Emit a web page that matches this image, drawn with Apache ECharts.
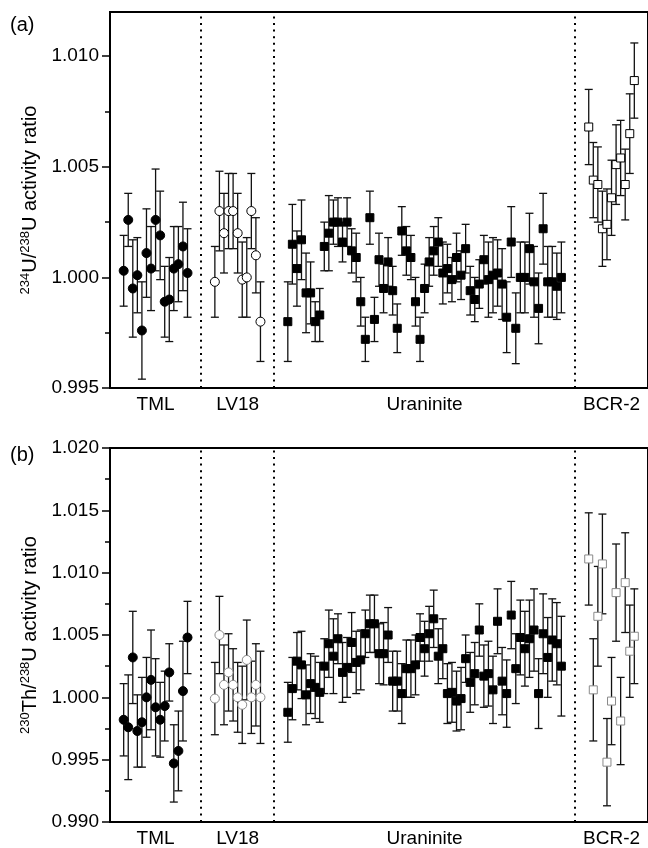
<!DOCTYPE html>
<html><head><meta charset="utf-8">
<script src="https://cdn.jsdelivr.net/npm/echarts@6/dist/echarts.min.js"></script>
<style>html,body{margin:0;padding:0;background:#fff}#c{width:648px;height:848px}</style>
</head><body><div id="c"></div>
<script>
// ---------- data ----------
const groupNames = ['TML', 'LV18', 'Uraninite', 'BCR-2'];
// sample position (run index) of each measurement along the x axis
const tmlX = [3,4,5,6,7,8,9,10,11,12,13,14,15,16,17];
const lv18X = [23,24,25,26,27,28,29,30,31,32,33];
const uranX = [39,40,41,42,43,44,45,46,47,48,49,50,51,52,53,54,55,56,57,58,59,60,61,62,63,64,65,66,67,68,69,70,71,72,73,74,75,76,77,78,79,80,81,82,83,84,85,86,87,88,89,90,91,92,93,94,95,96,97,98,99];
const bcrX = [105,106,107,108,109,110,111,112,113,114,115];

// (a) 234U/238U activity ratio
const yTicksA = [0.995, 1.000, 1.005, 1.010];
const tmlA = [1.0003,1.0026,0.9995,1.0001,0.9976,1.0011,1.0004,1.0026,1.0019,0.9989,0.9990,1.0004,1.0006,1.0014,1.0002];
const tmlAErr = [0.0016,0.0012,0.0022,0.0017,0.0022,0.0020,0.0019,0.0023,0.0020,0.0016,0.0019,0.0019,0.0017,0.0020,0.0020];
const lv18A = [0.9998,1.0030,1.0020,1.0030,1.0030,1.0020,0.9999,1.0000,1.0030,1.0010,0.9980];
const lv18AErr = [0.0016,0.0018,0.0018,0.0017,0.0017,0.0018,0.0017,0.0018,0.0017,0.0017,0.0018];
const uranA = [0.9980,1.0015,1.0004,1.0017,0.9993,0.9993,0.9980,0.9983,1.0014,1.0020,
  1.0025,1.0025,1.0016,1.0025,1.0012,1.0009,0.9989,0.9972,1.0027,0.9981,
  1.0008,0.9995,1.0007,0.9994,0.9977,1.0021,1.0012,1.0009,0.9989,0.9972,
  0.9995,1.0007,1.0012,1.0016,1.0002,1.0004,0.9999,1.0009,1.0001,1.0013,
  0.9994,0.9990,0.9997,1.0008,0.9999,1.0001,1.0002,0.9997,0.9982,1.0016,
  0.9977,1.0000,1.0000,1.0013,0.9998,0.9986,1.0022,0.9998,0.9998,0.9996,1.0000];
const uranAErr = [0.0018,0.0018,0.0017,0.0018,0.0018,0.0014,0.0009,0.0012,0.0011,0.0017,
  0.0010,0.0011,0.0009,0.0011,0.0010,0.0011,0.0011,0.0010,0.0012,0.0010,
  0.0012,0.0011,0.0011,0.0011,0.0011,0.0011,0.0011,0.0010,0.0011,0.0010,
  0.0011,0.0011,0.0011,0.0011,0.0014,0.0011,0.0010,0.0011,0.0011,0.0011,
  0.0011,0.0010,0.0011,0.0011,0.0017,0.0017,0.0015,0.0016,0.0016,0.0016,
  0.0016,0.0016,0.0016,0.0016,0.0016,0.0016,0.0016,0.0016,0.0016,0.0015,0.0016];
const bcrA = [1.0068,1.0044,1.0042,1.0022,1.0024,1.0036,1.0051,1.0054,1.0042,1.0065,1.0089];
const bcrAErr = [0.0017,0.0017,0.0017,0.0017,0.0016,0.0017,0.0018,0.0017,0.0016,0.0018,0.0017];

// (b) 230Th/238U activity ratio
const yTicksB = [0.990, 0.995, 1.000, 1.005, 1.010, 1.015, 1.020];
const tmlB = [0.9982,0.9976,1.0032,0.9973,0.9980,1.0000,1.0014,0.9992,0.9982,0.9993,1.0020,0.9947,0.9957,1.0005,1.0048];
const tmlBErr = [0.0029,0.0042,0.0037,0.0029,0.0036,0.0032,0.0040,0.0039,0.0030,0.0028,0.0023,0.0031,0.0032,0.0040,0.0029];
const lv18B = [0.9999,1.0050,1.0010,1.0020,1.0010,1.0000,0.9994,1.0030,1.0000,1.0010,1.0000];
const lv18BErr = [0.0029,0.0031,0.0032,0.0031,0.0029,0.0028,0.0031,0.0032,0.0029,0.0033,0.0037];
const uranB = [0.9988,1.0007,1.0029,1.0026,1.0002,1.0011,1.0008,1.0004,1.0025,1.0043,
  1.0033,1.0047,1.0020,1.0024,1.0044,1.0028,1.0030,1.0051,1.0059,1.0059,
  1.0035,1.0035,1.0050,1.0013,1.0013,1.0003,1.0023,1.0023,1.0026,1.0048,
  1.0039,1.0051,1.0063,1.0033,1.0039,1.0003,1.0004,0.9997,0.9999,1.0031,
  1.0012,1.0019,1.0054,1.0017,1.0019,1.0006,1.0061,1.0013,1.0003,1.0066,
  1.0023,1.0048,1.0039,1.0047,1.0054,1.0003,1.0051,1.0032,1.0046,1.0043,1.0025];
const uranBErr = [0.0024,0.0025,0.0023,0.0027,0.0024,0.0024,0.0025,0.0024,0.0022,0.0027,
  0.0030,0.0020,0.0024,0.0024,0.0024,0.0025,0.0024,0.0019,0.0023,0.0023,
  0.0024,0.0025,0.0022,0.0024,0.0024,0.0024,0.0023,0.0023,0.0024,0.0019,
  0.0022,0.0022,0.0023,0.0022,0.0024,0.0024,0.0024,0.0024,0.0025,0.0019,
  0.0024,0.0025,0.0021,0.0025,0.0026,0.0027,0.0026,0.0027,0.0027,0.0027,
  0.0028,0.0030,0.0030,0.0031,0.0033,0.0028,0.0032,0.0032,0.0033,0.0033,0.0040];
const bcrB = [1.0111,1.0006,1.0065,1.0107,0.9948,0.9997,1.0084,0.9981,1.0092,1.0037,1.0049];
const bcrBErr = [0.0037,0.0041,0.0040,0.0040,0.0035,0.0035,0.0039,0.0035,0.0040,0.0037,0.0038];

// ---------- build ----------
const FONT = 'Liberation Sans, Arial, Helvetica, sans-serif';
const groupsX = [tmlX, lv18X, uranX, bcrX];
const mean = a => a.reduce((s, v) => s + v, 0) / a.length;
const groupCenters = groupsX.map(mean);
const dividers = [0, 1, 2].map(i => (groupsX[i][groupsX[i].length - 1] + groupsX[i + 1][0]) / 2);

const pts = (xs, ys, es) => xs.map((x, i) => [x, ys[i], es[i]]);

function errSeries(idx, data) {
  return {
    type: 'custom', xAxisIndex: idx, yAxisIndex: idx, z: 1, silent: true,
    data: data,
    renderItem: function (params, api) {
      const x = api.value(0), y = api.value(1), e = api.value(2);
      const t = api.coord([x, y + e]);
      const b = api.coord([x, y - e]);
      const hw = 4;
      const st = { stroke: '#111', lineWidth: 1.3, fill: null };
      return {
        type: 'group', children: [
          { type: 'line', shape: { x1: t[0], y1: t[1], x2: b[0], y2: b[1] }, style: st },
          { type: 'line', shape: { x1: t[0] - hw, y1: t[1], x2: t[0] + hw, y2: t[1] }, style: st },
          { type: 'line', shape: { x1: b[0] - hw, y1: b[1], x2: b[0] + hw, y2: b[1] }, style: st }
        ]
      };
    }
  };
}
function scat(idx, data, symbol, size, fill, border) {
  return {
    type: 'scatter', xAxisIndex: idx, yAxisIndex: idx, z: 3, silent: true,
    symbol: symbol, symbolSize: size, data: data.map(d => [d[0], d[1]]),
    itemStyle: { color: fill, borderColor: border, borderWidth: 1, opacity: 1 }
  };
}
function dividerSeries(idx) {
  return {
    type: 'scatter', xAxisIndex: idx, yAxisIndex: idx, data: [], silent: true,
    markLine: {
      silent: true, symbol: ['none', 'none'], label: { show: false },
      lineStyle: { color: '#000', type: [2, 4.6], width: 2 },
      data: dividers.map(v => ({ xAxis: v }))
    }
  };
}

const dA = [pts(tmlX, tmlA, tmlAErr), pts(lv18X, lv18A, lv18AErr), pts(uranX, uranA, uranAErr), pts(bcrX, bcrA, bcrAErr)];
const dB = [pts(tmlX, tmlB, tmlBErr), pts(lv18X, lv18B, lv18BErr), pts(uranX, uranB, uranBErr), pts(bcrX, bcrB, bcrBErr)];

function xAxisDef(idx) {
  return {
    type: 'value', gridIndex: idx, min: 0, max: 118,
    axisLine: { show: true, onZero: false, lineStyle: { color: '#000', width: 2 } },
    axisTick: { show: false },
    splitLine: { show: false },
    axisLabel: {
      customValues: groupCenters, margin: 7, color: '#000', fontSize: 19, fontFamily: FONT,
      formatter: v => {
        let best = 0;
        groupCenters.forEach((c, i) => { if (Math.abs(c - v) < Math.abs(groupCenters[best] - v)) best = i; });
        return groupNames[best];
      }
    }
  };
}
function yAxisDef(idx, ticks, name) {
  return {
    type: 'value', gridIndex: idx, min: ticks[0], max: idx === 0 ? 1.012 : ticks[ticks.length - 1], interval: 0.005,
    axisLine: { show: true, lineStyle: { color: '#000', width: 2 } },
    axisTick: { show: true, length: 8, customValues: ticks, lineStyle: { color: '#000', width: 1.5 } },
    minorTick: { show: true, splitNumber: 2, length: 5, lineStyle: { color: '#000', width: 1.5 } },
    splitLine: { show: false },
    axisLabel: { customValues: ticks, color: '#000', fontSize: 19, fontFamily: FONT, margin: 11,
      formatter: v => v.toFixed(3) },
    name: name, nameLocation: 'middle', nameGap: 66,
    nameTextStyle: {
      rich: {
        b: { fontSize: 20, fontFamily: FONT, color: '#000', lineHeight: 24 },
        s: { fontSize: 13, fontFamily: FONT, color: '#000', verticalAlign: 'top' }
      }
    }
  };
}

const option = {
  animation: false,
  backgroundColor: '#fff',
  title: [
    { text: '(a)', left: 5, top: 10, textStyle: { fontSize: 20, fontWeight: 'normal', color: '#000', fontFamily: FONT } },
    { text: '(b)', left: 5, top: 440, textStyle: { fontSize: 20, fontWeight: 'normal', color: '#000', fontFamily: FONT } }
  ],
  grid: [
    { left: 110, top: 12, width: 543, height: 376, show: true, borderColor: '#000', borderWidth: 2, backgroundColor: 'transparent' },
    { left: 110, top: 448, width: 543, height: 376, show: true, borderColor: '#000', borderWidth: 2, backgroundColor: 'transparent' }
  ],
  xAxis: [xAxisDef(0), xAxisDef(1)],
  yAxis: [
    yAxisDef(0, yTicksA, '{s|234}{b|U/}{s|238}{b|U activity ratio}'),
    yAxisDef(1, yTicksB, '{s|230}{b|Th/}{s|238}{b|U activity ratio}')
  ],
  series: [
    dividerSeries(0), dividerSeries(1),
    errSeries(0, dA[0]), errSeries(0, dA[1]), errSeries(0, dA[2]), errSeries(0, dA[3]),
    errSeries(1, dB[0]), errSeries(1, dB[1]), errSeries(1, dB[2]), errSeries(1, dB[3]),
    scat(0, dA[0], 'circle', 9, '#000', '#000'),
    scat(0, dA[1], 'circle', 9, '#fff', '#000'),
    scat(0, dA[2], 'rect', 8, '#000', '#000'),
    scat(0, dA[3], 'rect', 8, '#fff', '#000'),
    scat(1, dB[0], 'circle', 9, '#000', '#000'),
    scat(1, dB[1], 'circle', 9, '#fff', '#8a8a8a'),
    scat(1, dB[2], 'rect', 8, '#000', '#000'),
    scat(1, dB[3], 'rect', 8, '#fff', '#8a8a8a')
  ]
};
const chart = echarts.init(document.getElementById('c'), null, { renderer: 'canvas' });
chart.setOption(option);
</script>
</body></html>
